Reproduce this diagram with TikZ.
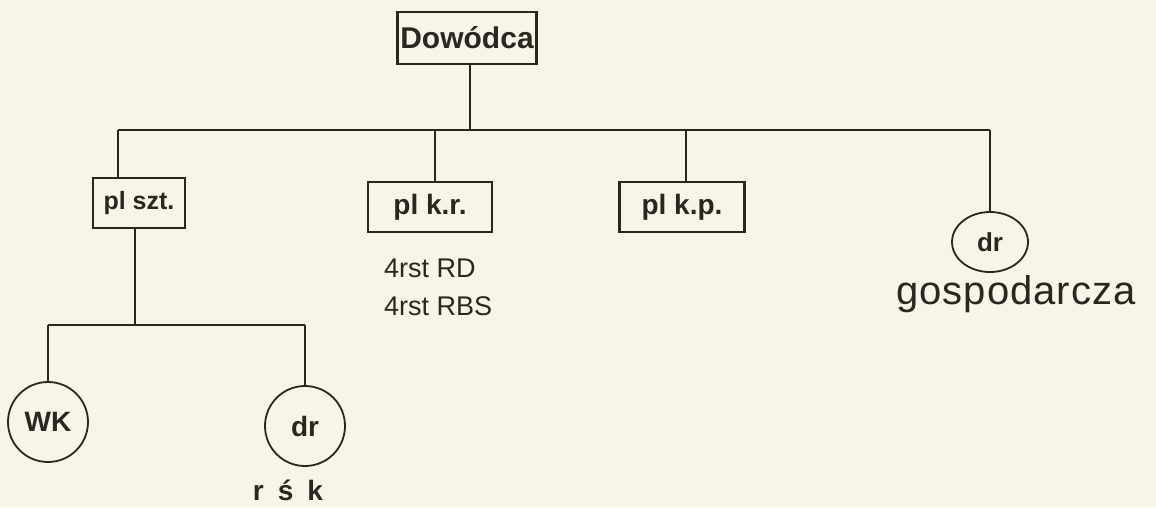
\documentclass[tikz,border=0pt]{standalone}
\usepackage{fontspec}
\setmainfont{Liberation Sans}
\usetikzlibrary{shapes.geometric}
\definecolor{paper}{HTML}{F8F4E8}
\definecolor{ink}{HTML}{2B2620}
\tikzset{
  box/.style={draw=ink, line width=2.2pt, rectangle, minimum height=50pt, inner sep=0pt, text=ink},
  unitc/.style={draw=ink, line width=1.8pt, circle, inner sep=0pt, text=ink},
  conn/.style={draw=ink, line width=1.6pt},
  lbl/.style={text=ink, inner sep=0pt},
}
\begin{document}
\begin{tikzpicture}[x=1pt,y=-1pt]
\fill[paper] (0,0) rectangle (1156,507);
\useasboundingbox (0,0) rectangle (1156,507);

\node[box, minimum width=139pt, minimum height=52pt, font=\fontsize{30}{32}\selectfont\bfseries] (dow) at (467,38) {Dowódca};
\node[box, minimum width=92pt, font=\fontsize{25}{27}\selectfont\bfseries] (szt) at (139,203) {pl szt.};
\node[box, minimum width=124pt, font=\fontsize{28}{30}\selectfont\bfseries] (kr) at (430,207) {pl k.r.};
\node[box, minimum width=125pt, font=\fontsize{28}{30}\selectfont\bfseries] (kp) at (682,207) {pl k.p.};
\node[draw=ink, line width=1.8pt, ellipse, minimum width=76pt, minimum height=60pt, inner sep=0pt, text=ink, font=\fontsize{26}{28}\selectfont\bfseries] (drg) at (990,242) {dr};
\node[unitc, minimum size=80pt, font=\fontsize{28}{30}\selectfont\bfseries] (wk) at (48,422) {WK};
\node[unitc, minimum size=80pt, font=\fontsize{28}{30}\selectfont\bfseries] (drs) at (305,426) {dr};

\node[lbl, anchor=west, font=\fontsize{27}{29}\selectfont] (rd) at (384,268) {4rst RD};
\node[lbl, anchor=west, font=\fontsize{27}{29}\selectfont] (rbs) at (384,306) {4rst RBS};
\node[lbl, font=\fontsize{40}{42}\selectfont] (gosp) at (1016,294) {g\kern1pt o\kern1pt s\kern1pt p\kern1pt o\kern1pt d\kern1pt a\kern1pt r\kern1pt c\kern1pt z\kern1pt a};
\node[lbl, font=\fontsize{28}{30}\selectfont\bfseries] (rsk) at (288,490) {r\hspace{14pt}ś\hspace{14pt}k};

\coordinate (top) at (470,130);
\coordinate (busL) at (118,130);
\coordinate (busR) at (990,130);
\coordinate (b2) at (435,130);
\coordinate (b3) at (686,130);
\coordinate (sub) at (135,325);
\coordinate (subL) at (48,325);
\coordinate (subR) at (305,325);

\draw[conn] (dow.south -| top) -- (top);
\draw[conn] (busL) -- (busR);
\draw[conn] (busL) -- (busL |- szt.north);
\draw[conn] (b2) -- (b2 |- kr.north);
\draw[conn] (b3) -- (b3 |- kp.north);
\draw[conn] (busR) -- (drg.north);
\draw[conn] (szt.south -| sub) -- (sub);
\draw[conn] (subL) -- (subR);
\draw[conn] (subL) -- (wk.north);
\draw[conn] (subR) -- (drs.north);
\end{tikzpicture}
\end{document}
